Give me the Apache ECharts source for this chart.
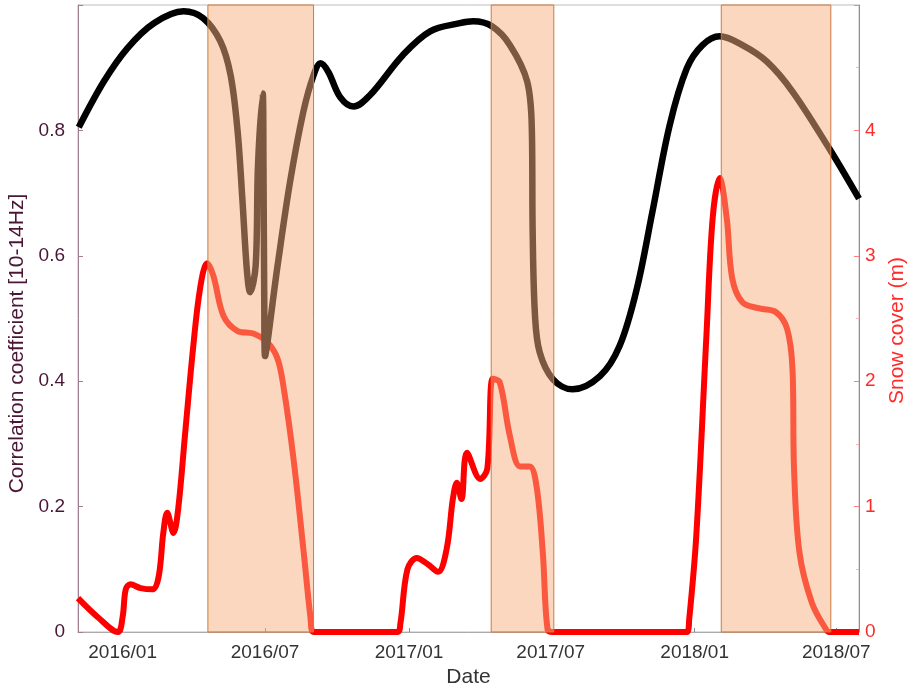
<!DOCTYPE html>
<html>
<head>
<meta charset="utf-8">
<script src="https://cdn.jsdelivr.net/npm/echarts@6/dist/echarts.min.js"></script>
<style>
  html, body { margin: 0; padding: 0; background: #fff; }
  #chart { width: 909px; height: 692px; }
</style>
</head>
<body>
<div id="chart"></div>
<script>
// correlation coefficient (left axis)
var corr_data = [
    ['2015-11-06', 0.805], ['2015-12-08', 0.878], ['2016-01-07', 0.931], ['2016-02-10', 0.971],
    ['2016-03-19', 0.990], ['2016-04-13', 0.979], ['2016-05-05', 0.942], ['2016-05-18', 0.888],
    ['2016-05-27', 0.798], ['2016-06-02', 0.691], ['2016-06-08', 0.574], ['2016-06-12', 0.542],
    ['2016-06-19', 0.584], ['2016-06-22', 0.744], ['2016-06-28', 0.859], ['2016-06-29', 0.744],
    ['2016-06-30', 0.531], ['2016-07-01', 0.440], ['2016-07-17', 0.584], ['2016-08-02', 0.718],
    ['2016-08-19', 0.830], ['2016-09-01', 0.888], ['2016-09-10', 0.907], ['2016-09-20', 0.893],
    ['2016-10-05', 0.853], ['2016-10-22', 0.838], ['2016-11-12', 0.856], ['2016-12-24', 0.920],
    ['2017-01-28', 0.958], ['2017-03-07', 0.971], ['2017-03-24', 0.974], ['2017-04-17', 0.966],
    ['2017-05-10', 0.936], ['2017-06-01', 0.878], ['2017-06-07', 0.798], ['2017-06-08', 0.638],
    ['2017-06-11', 0.504], ['2017-06-17', 0.446], ['2017-07-04', 0.403], ['2017-07-29', 0.387],
    ['2017-09-02', 0.408], ['2017-09-27', 0.456], ['2017-10-19', 0.547], ['2017-11-08', 0.670],
    ['2017-11-30', 0.808], ['2017-12-22', 0.899], ['2018-01-11', 0.936], ['2018-02-02', 0.950],
    ['2018-03-03', 0.936], ['2018-04-03', 0.910], ['2018-05-06', 0.862], ['2018-06-22', 0.771],
    ['2018-07-30', 0.691]
];
// snow cover in m (right axis)
var snow_data = [
    ['2015-11-05', 0.27], ['2015-11-30', 0.12], ['2015-12-26', 0.00], ['2016-01-01', 0.12],
    ['2016-01-05', 0.34], ['2016-01-11', 0.38], ['2016-01-24', 0.35], ['2016-02-08', 0.34],
    ['2016-02-16', 0.44], ['2016-02-22', 0.79], ['2016-02-27', 0.95], ['2016-03-06', 0.79],
    ['2016-03-12', 0.98], ['2016-03-21', 1.59], ['2016-03-31', 2.26], ['2016-04-09', 2.74],
    ['2016-04-18', 2.94], ['2016-04-26', 2.84], ['2016-05-09', 2.52], ['2016-05-27', 2.40],
    ['2016-06-16', 2.38], ['2016-07-04', 2.31], ['2016-07-17', 2.18], ['2016-07-25', 1.94],
    ['2016-08-06', 1.40], ['2016-08-19', 0.66], ['2016-08-28', 0.12], ['2016-09-01', 0.00],
    ['2016-12-17', 0.00], ['2016-12-21', 0.07], ['2016-12-30', 0.50], ['2017-01-11', 0.59],
    ['2017-01-25', 0.54], ['2017-02-07', 0.48], ['2017-02-18', 0.66], ['2017-02-26', 1.06],
    ['2017-03-03', 1.19], ['2017-03-09', 1.06], ['2017-03-16', 1.43], ['2017-04-02', 1.22],
    ['2017-04-11', 1.30], ['2017-04-18', 2.02], ['2017-04-27', 1.99], ['2017-05-10', 1.56],
    ['2017-05-23', 1.32], ['2017-06-04', 1.32], ['2017-06-13', 1.16], ['2017-06-21', 0.63],
    ['2017-06-27', 0.02], ['2017-07-04', 0.00], ['2017-12-22', 0.00], ['2017-12-25', 0.10],
    ['2018-01-03', 0.76], ['2018-01-16', 2.36], ['2018-01-24', 3.30], ['2018-02-02', 3.62],
    ['2018-02-11', 3.30], ['2018-02-18', 2.82], ['2018-03-03', 2.63], ['2018-03-25', 2.58],
    ['2018-04-15', 2.55], ['2018-04-29', 2.42], ['2018-05-06', 2.10], ['2018-05-08', 1.30],
    ['2018-05-15', 0.63], ['2018-05-31', 0.23], ['2018-06-18', 0.02], ['2018-06-22', 0.00],
    ['2018-07-30', 0.00]
];
// shaded periods
var band_start = ['2016-04-19', '2017-04-16', '2018-02-04'];
var band_end = ['2016-09-01', '2017-07-05', '2018-06-24'];
// tick labels on the date axis
var date_ticks = ['2016-01-01', '2016-07-01', '2017-01-01', '2017-07-01', '2018-01-01', '2018-07-01'];

var x_min = '2015-11-05', x_max = '2018-07-30';

// dates -> ms (UTC), so the value axis can place them
function ms(s) {
    var p = s.split('-');
    return Date.UTC(+p[0], +p[1] - 1, +p[2]);
}
function toXY(arr) {
    return arr.map(function (d) { return [ms(d[0]), d[1]]; });
}
var tick_values = date_ticks.map(ms);
var band_data = band_start.map(function (s, i) {
    return [{xAxis: ms(s)}, {xAxis: ms(band_end[i])}];
});

var font = 'Liberation Sans, Arial, sans-serif';
var chart = echarts.init(document.getElementById('chart'));
var option = {
    animation: false,
    backgroundColor: '#fff',
    grid: {
        left: 78, right: 50, top: 5, bottom: 60,
        containLabel: false,
        outerBoundsMode: 'none',
        show: true, borderColor: '#bdbdbd', borderWidth: 1
    },
    xAxis: {
        type: 'value',
        min: ms(x_min),
        max: ms(x_max),
        name: 'Date',
        nameLocation: 'middle',
        nameGap: 35,
        nameTextStyle: {color: '#333', fontSize: 21, fontFamily: font},
        axisLine: {lineStyle: {color: '#aaa'}},
        axisTick: {inside: true, length: 4, customValues: tick_values, lineStyle: {color: '#888'}},
        splitLine: {show: false},
        axisLabel: {
            customValues: tick_values,
            color: '#333', fontSize: 19, fontFamily: font, margin: 11,
            formatter: function (v) {
                var d = new Date(v), m = d.getUTCMonth() + 1;
                return d.getUTCFullYear() + '/' + (m < 10 ? '0' + m : m);
            }
        }
    },
    yAxis: [{
        type: 'value',
        min: 0, max: 1, interval: 0.2,
        name: 'Correlation coefficient [10-14Hz]',
        nameLocation: 'middle',
        nameGap: 45,
        nameTextStyle: {color: '#4a1636', fontSize: 21, fontFamily: font, padding: [0, 50, 0, 0]},
        axisLine: {show: true, lineStyle: {color: '#a08090'}},
        axisTick: {show: true, inside: true, length: 5, lineStyle: {color: '#a08090'}},
        splitLine: {show: false},
        axisLabel: {
            color: '#4a1636', fontSize: 19, fontFamily: font, margin: 13,
            formatter: function (v) { return v >= 1 ? '' : String(+v.toFixed(1)); }
        }
    }, {
        type: 'value',
        min: 0, max: 5, interval: 1,
        name: 'Snow cover (m)',
        nameLocation: 'middle',
        nameGap: 28,
        nameRotate: 90,
        nameTextStyle: {color: '#ff2a2a', fontSize: 21, fontFamily: font, padding: [0, 24, 0, 0]},
        axisLine: {show: true, lineStyle: {color: '#ff6060'}},
        axisTick: {show: true, inside: true, length: 5, lineStyle: {color: '#ff8080'}},
        minorTick: {show: true, splitNumber: 2, length: 3, lineStyle: {color: '#ffb0b0'}},
        splitLine: {show: false},
        axisLabel: {
            color: '#ff2a2a', fontSize: 19, fontFamily: font, margin: 6,
            formatter: function (v) { return v >= 5 ? '' : String(v); }
        }
    }],
    series: [{
        name: 'Snow cover',
        type: 'line',
        yAxisIndex: 1,
        data: toXY(snow_data),
        smooth: 0.35,
        showSymbol: false,
        lineStyle: {color: '#ff0000', width: 6},
        z: 2
    }, {
        name: 'Correlation',
        type: 'line',
        yAxisIndex: 0,
        data: toXY(corr_data),
        smooth: 0.35,
        showSymbol: false,
        lineStyle: {color: '#000', width: 6.5},
        z: 3
    }, {
        name: 'bands',
        type: 'line',
        data: [],
        z: 10,
        markArea: {
            silent: true,
            z: 10,
            itemStyle: {
                color: 'rgba(245,175,125,0.5)',
                borderColor: '#cf7a3e',
                borderWidth: 1
            },
            data: band_data
        }
    }]
};
chart.setOption(option);
</script>
</body>
</html>
